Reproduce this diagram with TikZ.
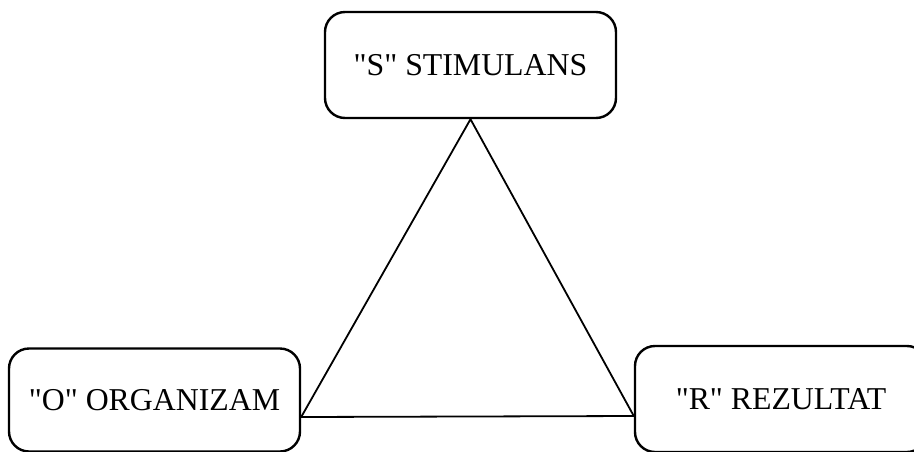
\documentclass[tikz,border=0pt]{standalone}
\usepackage{fontspec}
\setmainfont{Liberation Serif}
\begin{document}
\begin{tikzpicture}[x=1pt,y=-1pt,
  box/.style={draw=black,line width=2.4pt,rounded corners=20pt,inner sep=0pt,
    font=\fontsize{31.8}{36}\selectfont},
  edge/.style={draw=black,line width=1.8pt}]
\useasboundingbox (0,0) rectangle (914,451);
\clip (0,0) rectangle (914,451);
\node[box,minimum width=291pt,minimum height=106pt] (S) at (470.5,65) {\textquotedbl S\textquotedbl{} STIMULANS};
\node[box,minimum width=291pt,minimum height=103pt] (O) at (154.5,400) {\textquotedbl O\textquotedbl{} ORGANIZAM};
\node[box,minimum width=292pt,minimum height=106pt] (R) at (781,399) {\textquotedbl R\textquotedbl{} REZULTAT};
\coordinate (A) at (S.south);
\coordinate (L) at ([yshift=-17pt]O.east);
\coordinate (Rv) at ([yshift=-17pt]R.west);
\draw[edge] (A) -- (L) -- (Rv) -- cycle;
\end{tikzpicture}
\end{document}
